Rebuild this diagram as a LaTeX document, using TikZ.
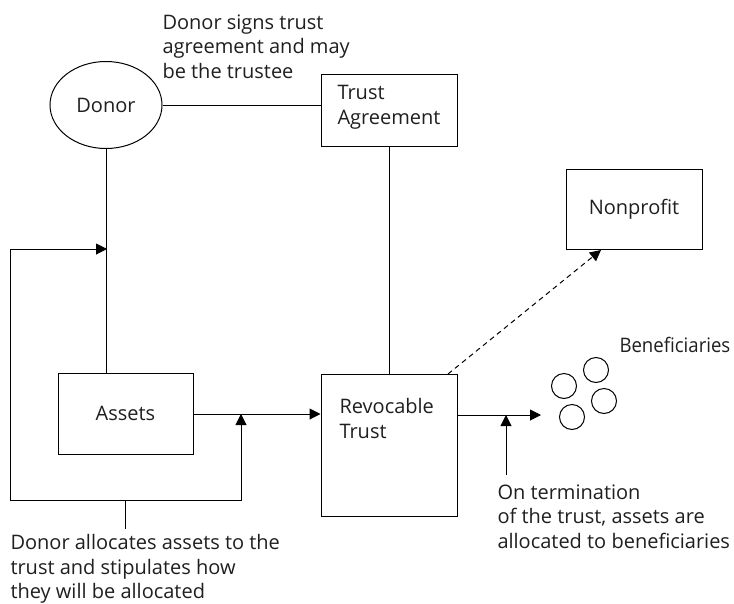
\documentclass[tikz,border=0pt]{standalone}
\usepackage{fontspec}
\setmainfont{Open Sans}
\usetikzlibrary{arrows.meta,shapes.geometric}
\begin{document}
\begin{tikzpicture}[x=1pt,y=-1pt,
  line width=1pt,
  every node/.style={font=\fontsize{20}{24.5}\selectfont, inner sep=0pt, text=black!88},
  box/.style={draw, rectangle},
  lbl/.style={align=left, anchor=north west},
  tip/.style={-{Triangle[length=11pt,width=11pt]}},
  ring/.style={draw, circle, minimum size=25pt}]
\useasboundingbox (0,0) rectangle (734,603);

% principal shapes
\node[draw, ellipse, minimum width=112pt, minimum height=87pt] (donor) at (106,105) {Donor};
\node[box, minimum width=136pt, minimum height=72pt] (agree) at (389,110) {};
\node[lbl] at (337,85) {Trust\\Agreement};
\node[box, minimum width=135pt, minimum height=81pt] (assets) at (125.5,413.5) {Assets};
\node[box, minimum width=136pt, minimum height=142pt] (trust) at (389,445) {};
\node[lbl] at (339,398) {Revocable\\Trust};
\node[box, minimum width=136pt, minimum height=80pt] (np) at (634,209) {Nonprofit};

% beneficiaries
\node[ring] (b1) at (596,370) {};
\node[ring] (b2) at (564,386) {};
\node[ring] (b3) at (604,401) {};
\node[ring] (b4) at (572,417) {};
\node[lbl] (blbl) at (619,336.5) {\scalebox{0.93}[1]{Beneficiaries}};

% captions
\node[lbl] (cap1) at (162,14) {Donor signs trust\\agreement and may\\be the trustee};
\node[lbl] (cap2) at (10,534) {Donor allocates assets to the\\trust and stipulates how\\they will be allocated};
\node[lbl] (cap3) at (497,484) {On termination\\of the trust, assets are\\allocated to beneficiaries};

% helper points
\coordinate (loopTop) at (10,249);
\coordinate (loopBot) at (10,500);
\coordinate (loopMid) at (125,500);
\coordinate (loopR) at (241,500);
\coordinate (joinA) at (241,414);
\coordinate (joinD) at (107,249);
\coordinate (outEnd) at (541,415);
\coordinate (termFoot) at (506,475);
\coordinate (termTip) at (506,415);
\coordinate (npTip) at (601,250);

% connectors
\draw (donor.east) -- (agree.west |- donor.east);
\draw (donor.south) -- (donor.south |- assets.north);
\draw (agree.south) -- (trust.north);
\draw[tip] (assets.east |- joinA) -- (trust.west |- joinA);
\draw[tip] (loopMid) -- (loopBot) -- (loopTop) -- (joinD);
\draw[tip] (loopMid) -- (loopR) -- (joinA);
\draw (loopMid) -- (125,529);
\draw[tip] (trust.east |- outEnd) -- (outEnd);
\draw[tip] (termFoot) -- (termTip);
\draw[tip, dashed, dash pattern=on 5pt off 4pt] (448,374) -- (npTip);
\end{tikzpicture}
\end{document}
